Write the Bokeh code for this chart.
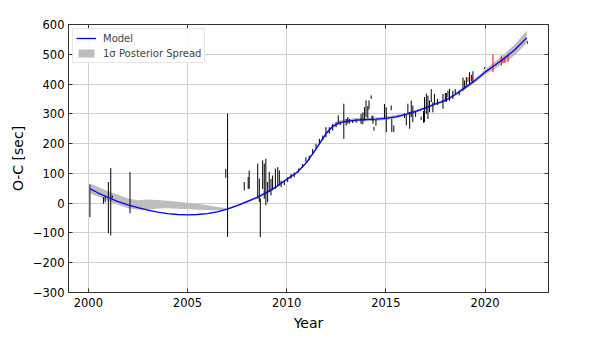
from bokeh.plotting import figure
from bokeh.models import Range1d, LinearAxis, FixedTicker, Legend, LegendItem, ColumnDataSource
from bokeh.embed import file_html
from bokeh.resources import INLINE

# ---- data ----
x_ticks = [2000, 2005, 2010, 2015, 2020]
x_tick_labels = ["2000", "2005", "2010", "2015", "2020"]
y_ticks = [-300, -200, -100, 0, 100, 200, 300, 400, 500, 600]
y_tick_labels = ["\u2212300", "\u2212200", "\u2212100", "0", "100", "200", "300", "400", "500", "600"]

model_year = [2000.1, 2000.5, 2001.0, 2001.5, 2002.0, 2002.5, 2003.0, 2003.5, 2004.0, 2004.5,
              2005.0, 2005.5, 2006.0, 2006.5, 2007.0, 2007.5, 2008.0, 2008.5, 2009.0, 2009.5,
              2010.0, 2010.5, 2011.0, 2011.5, 2012.0, 2012.3, 2012.6, 2013.0, 2013.5, 2014.0,
              2014.5, 2015.0, 2015.5, 2016.0, 2016.5, 2017.0, 2017.5, 2018.0, 2018.5, 2019.0,
              2019.5, 2020.0, 2020.5, 2021.0, 2021.5, 2022.1]
model_oc = [48, 34, 19, 5, -6, -15, -23, -30, -35, -38,
            -39, -38, -35, -29, -20, -8, 5, 19, 36, 56,
            80, 102, 136, 184, 235, 256, 268, 275, 279, 281,
            282, 285, 290, 298, 308, 320, 333, 345, 365, 388,
            412, 440, 463, 488, 515, 555]
band_lo = [32, 22, 7, -5, -17, -22, -22, -18, -17, -19,
           -20, -22, -23, -25, -23, -11, 1, 15, 32, 52,
           76, 98, 132, 180, 232, 254, 266, 271, 274, 275,
           276, 279, 285, 293, 303, 315, 328, 340, 360, 382,
           405, 431, 451, 473, 497, 537]
band_hi = [65, 54, 40, 28, 16, 10, 12, 11, 8, 5,
           1, -2, -7, -13, -17, -5, 9, 23, 40, 60,
           84, 106, 140, 189, 240, 264, 278, 283, 286, 287,
           288, 291, 296, 303, 313, 325, 338, 350, 370, 394,
           419, 449, 475, 503, 533, 580]

obs_year = [2000.08, 2000.76, 2000.85, 2001.01, 2001.13, 2001.2, 2002.1, 2006.93, 2007.02,
            2007.86, 2008.06, 2008.11, 2008.54, 2008.62, 2008.67, 2008.79, 2008.87, 2008.95,
            2009.04, 2009.12, 2009.21, 2009.29, 2009.43, 2009.55, 2009.63, 2009.72, 2009.88,
            2010.05, 2010.22, 2010.38, 2010.6, 2010.8, 2010.97, 2011.14, 2011.31, 2011.48,
            2011.65, 2011.82, 2011.98, 2012.15, 2012.32, 2012.49, 2012.6, 2012.7, 2012.88, 2013.0,
            2013.08, 2013.16, 2013.33, 2013.5, 2013.75, 2013.84, 2013.92, 2014.0, 2014.09, 2014.15,
            2014.26, 2014.3, 2014.35, 2014.4, 2014.5, 2014.93, 2015.02, 2015.27, 2015.3, 2015.4,
            2015.94, 2016.03, 2016.11, 2016.2, 2016.28, 2016.36, 2016.5, 2016.78, 2016.9, 2016.95,
            2017.04, 2017.12, 2017.2, 2017.29, 2017.37, 2017.45, 2017.6, 2017.88, 2018.0, 2018.05,
            2018.13, 2018.21, 2018.38, 2018.5, 2018.7, 2018.89, 2018.97, 2019.06, 2019.22, 2019.31,
            2019.39, 2019.98]
obs_oc = [8, 9, 14, -15, 5, 21, 35, 100, 94,
          57, 68, 79, 74, 43, -49, 96, 74, 71,
          37, 71, 54, 68, 82, 90, 85, 65, 68,
          79, 90, 95, 110, 125, 146, 152, 173, 191,
          208, 219, 238, 244, 255, 263, 280, 268, 275, 272,
          278, 275, 274, 276, 283, 285, 300, 317, 306, 330,
          356, 286, 280, 250, 270, 308, 280, 320, 261, 250,
          294, 278, 317, 278, 317, 300, 300, 285, 290, 314,
          334, 322, 325, 361, 322, 350, 340, 342, 356, 355,
          367, 364, 364, 375, 370, 400, 398, 409, 420, 420,
          425, 454]
obs_err = [55, 11, 11, 86, 113, 5, 69, 15, 207,
           14, 20, 31, 59, 39, 65, 48, 59, 78,
           34, 34, 28, 25, 34, 31, 25, 11, 8,
           8, 8, 8, 6, 6, 8, 8, 9, 8,
           8, 8, 17, 11, 11, 8, 15, 6, 59, 11,
           11, 8, 5, 6, 17, 20, 22, 28, 20, 15,
           6, 8, 13, 6, 10, 25, 42, 8, 22, 11,
           8, 17, 17, 28, 28, 28, 10, 6, 20, 42,
           34, 39, 20, 22, 17, 17, 10, 25, 14, 15,
           11, 20, 14, 8, 8, 22, 14, 14, 20, 11,
           18, 3]

red_year = [2019.14, 2019.36, 2020.4, 2020.82, 2020.9, 2021.0, 2021.16, 2022.14]
red_oc = [415, 419, 470, 479, 479, 482, 485, 540]
red_err = [8, 6, 30, 17, 8, 10, 11, 5]

FONT = "DejaVu Sans"

p = figure(frame_width=480, frame_height=268, output_backend="svg", toolbar_location=None,
           x_range=Range1d(1999.0, 2023.2), y_range=Range1d(-300, 600),
           min_border_left=68, min_border_right=44, min_border_top=24, min_border_bottom=49,
           background_fill_color="white", border_fill_color="white")
p.outline_line_color = "#333333"
p.outline_line_width = 1

band_src = ColumnDataSource(dict(x=model_year, lo=band_lo, hi=band_hi))
band_r = p.varea(x="x", y1="lo", y2="hi", source=band_src, fill_color="#bdbdbd", fill_alpha=1.0)

obs_src = ColumnDataSource(dict(
    x=obs_year,
    lo=[v - e for v, e in zip(obs_oc, obs_err)],
    hi=[v + e for v, e in zip(obs_oc, obs_err)]))
p.segment(x0="x", y0="lo", x1="x", y1="hi", source=obs_src, line_color="black", line_width=1)

red_src = ColumnDataSource(dict(
    x=red_year,
    lo=[v - e for v, e in zip(red_oc, red_err)],
    hi=[v + e for v, e in zip(red_oc, red_err)]))
p.segment(x0="x", y0="lo", x1="x", y1="hi", source=red_src, line_color="red", line_width=1)

line_r = p.line(model_year, model_oc, line_color="blue", line_width=1.3)

def style_axis(ax, ticks, labels, show_labels=True):
    ax.ticker = FixedTicker(ticks=ticks)
    if show_labels:
        ax.major_label_overrides = {t: l for t, l in zip(ticks, labels)}
    else:
        ax.major_label_overrides = {t: "" for t in ticks}
    ax.major_tick_in = 4
    ax.major_tick_out = 0
    ax.minor_tick_in = 0
    ax.minor_tick_out = 0
    ax.axis_line_color = "#333333"
    ax.major_tick_line_color = "#333333"
    ax.major_label_text_font = FONT
    ax.major_label_text_font_size = "11.5px"
    ax.major_label_text_color = "black"
    ax.major_label_standoff = 5
    ax.axis_label_text_font = FONT
    ax.axis_label_text_font_size = "14px"
    ax.axis_label_text_font_style = "normal"
    ax.axis_label_text_color = "black"

style_axis(p.xaxis[0], x_ticks, x_tick_labels)
style_axis(p.yaxis[0], y_ticks, y_tick_labels)
p.yaxis[0].major_label_standoff = 4
p.xaxis[0].axis_label = "Year"
p.yaxis[0].axis_label = "O-C [sec]"
p.xaxis[0].axis_label_standoff = 5
p.yaxis[0].axis_label_standoff = 4

top = LinearAxis()
style_axis(top, x_ticks, x_tick_labels, show_labels=False)
top.major_label_standoff = 0
p.add_layout(top, "above")
right = LinearAxis()
style_axis(right, y_ticks, y_tick_labels, show_labels=False)
right.major_label_standoff = 0
p.add_layout(right, "right")

p.xgrid.ticker = FixedTicker(ticks=x_ticks)
p.ygrid.ticker = FixedTicker(ticks=y_ticks)
p.xgrid.grid_line_color = "#d0d0d0"
p.ygrid.grid_line_color = "#d0d0d0"

legend = Legend(items=[LegendItem(label="Model", renderers=[line_r]),
                       LegendItem(label="1\u03c3 Posterior Spread", renderers=[band_r])],
                location="top_left")
legend.label_text_font = FONT
legend.label_text_font_size = "10px"
legend.glyph_width = 20
legend.glyph_height = 10
legend.label_height = 12
legend.label_standoff = 7
legend.spacing = 3
legend.padding = 3
legend.margin = 4
legend.border_line_color = "#cccccc"
legend.background_fill_alpha = 0.85
p.add_layout(legend)

open("out.html", "w").write(file_html(p, INLINE))
